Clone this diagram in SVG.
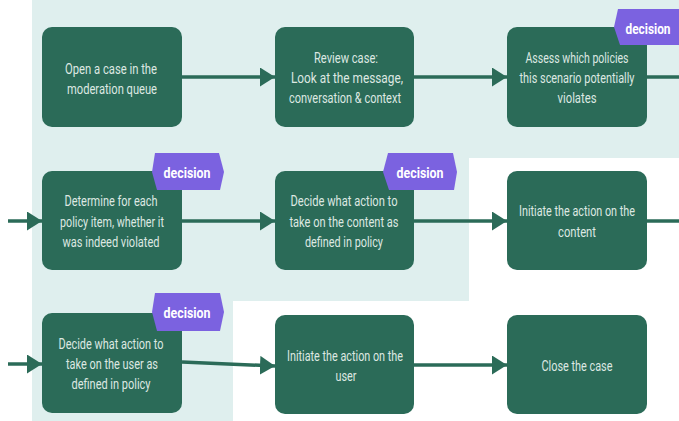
<svg xmlns="http://www.w3.org/2000/svg" width="679" height="421" viewBox="0 0 679 421">
<defs>
<style>
.node{fill:#2b6b58;}
.lbl{font-family:Roboto,"Liberation Sans",sans-serif;font-size:14.5px;fill:#dde8e2;text-anchor:middle;}
.badge{fill:#7b62e0;}
.btxt{font-family:Roboto,"Liberation Sans",sans-serif;font-size:15px;font-weight:bold;fill:#ffffff;text-anchor:middle;}
.conn{stroke:#2b6b58;stroke-width:3.5;fill:none;}
</style>
<marker id="arr" markerUnits="userSpaceOnUse" markerWidth="15" markerHeight="19" refX="15" refY="9.5" orient="auto">
<path d="M0,0 L15,9.5 L0,19 Z" fill="#2b6b58"/>
</marker>
</defs>
<rect width="679" height="421" fill="#ffffff"/>
<path d="M32,0 H679 V158 H469 V301 H233 V421 H32 Z" fill="#dfefee"/>
<g id="connectors">
<line class="conn" x1="182" y1="77" x2="275" y2="77" marker-end="url(#arr)"/>
<line class="conn" x1="414" y1="77" x2="507" y2="77" marker-end="url(#arr)"/>
<line class="conn" x1="647" y1="77" x2="679" y2="77"/>
<line class="conn" x1="8" y1="221" x2="42" y2="221" marker-end="url(#arr)"/>
<line class="conn" x1="182" y1="221" x2="275" y2="221" marker-end="url(#arr)"/>
<line class="conn" x1="414" y1="221" x2="507" y2="221" marker-end="url(#arr)"/>
<line class="conn" x1="647" y1="221" x2="679" y2="221"/>
<line class="conn" x1="8" y1="364" x2="42" y2="364" marker-end="url(#arr)"/>
<line class="conn" x1="182" y1="362" x2="275" y2="366" marker-end="url(#arr)"/>
<line class="conn" x1="414" y1="365" x2="507" y2="365" marker-end="url(#arr)"/>
</g>
<g id="n1">
<rect class="node" x="42" y="27" width="140" height="100" rx="10"/>
<text class="lbl" x="111" y="74" textLength="92" lengthAdjust="spacingAndGlyphs">Open a case in the</text>
<text class="lbl" x="112" y="94" textLength="90" lengthAdjust="spacingAndGlyphs">moderation queue</text>
</g>
<g id="n2">
<rect class="node" x="275" y="27" width="139" height="100" rx="10"/>
<text class="lbl" x="346" y="63" textLength="64" lengthAdjust="spacingAndGlyphs">Review case:</text>
<text class="lbl" x="347" y="83" textLength="112" lengthAdjust="spacingAndGlyphs">Look at the message,</text>
<text class="lbl" x="345" y="103" textLength="112" lengthAdjust="spacingAndGlyphs">conversation &amp; context</text>
</g>
<g id="n3">
<rect class="node" x="507" y="27" width="140" height="100" rx="10"/>
<text class="lbl" x="577" y="63" textLength="103" lengthAdjust="spacingAndGlyphs">Assess which policies</text>
<text class="lbl" x="577" y="83" textLength="115" lengthAdjust="spacingAndGlyphs">this scenario potentially</text>
<text class="lbl" x="577" y="103" textLength="39" lengthAdjust="spacingAndGlyphs">violates</text>
<path class="badge" d="M618,9 H679 V45 H620 L614,27 Z"/>
<text class="btxt" x="648" y="34" textLength="45" lengthAdjust="spacingAndGlyphs">decision</text>
</g>
<g id="n4">
<rect class="node" x="42" y="171" width="140" height="99" rx="10"/>
<text class="lbl" x="111" y="206" textLength="93" lengthAdjust="spacingAndGlyphs">Determine for each</text>
<text class="lbl" x="112" y="227" textLength="104" lengthAdjust="spacingAndGlyphs">policy item, whether it</text>
<text class="lbl" x="111" y="247" textLength="97" lengthAdjust="spacingAndGlyphs">was indeed violated</text>
<path class="badge" d="M155,153 H219 L224,172 L220,190 H157 L152,172 Z"/>
<text class="btxt" x="187" y="178" textLength="47" lengthAdjust="spacingAndGlyphs">decision</text>
</g>
<g id="n5">
<rect class="node" x="275" y="171" width="139" height="99" rx="10"/>
<text class="lbl" x="344" y="206" textLength="107" lengthAdjust="spacingAndGlyphs">Decide what action to</text>
<text class="lbl" x="344" y="227" textLength="109" lengthAdjust="spacingAndGlyphs">take on the content as</text>
<text class="lbl" x="344" y="247" textLength="78" lengthAdjust="spacingAndGlyphs">defined in policy</text>
<path class="badge" d="M388,153 H453 L457,172 L454,190 H389 L383,172 Z"/>
<text class="btxt" x="420" y="178" textLength="47" lengthAdjust="spacingAndGlyphs">decision</text>
</g>
<g id="n6">
<rect class="node" x="507" y="171" width="140" height="99" rx="10"/>
<text class="lbl" x="577" y="216" textLength="116" lengthAdjust="spacingAndGlyphs">Initiate the action on the</text>
<text class="lbl" x="577" y="237" textLength="38" lengthAdjust="spacingAndGlyphs">content</text>
</g>
<g id="n7">
<rect class="node" x="42" y="313" width="140" height="100" rx="10"/>
<text class="lbl" x="111" y="349" textLength="105" lengthAdjust="spacingAndGlyphs">Decide what action to</text>
<text class="lbl" x="112" y="369" textLength="92" lengthAdjust="spacingAndGlyphs">take on the user as</text>
<text class="lbl" x="111" y="389" textLength="79" lengthAdjust="spacingAndGlyphs">defined in policy</text>
<path class="badge" d="M155,293 H220 L224,312 L220,331 H157 L152,312 Z"/>
<text class="btxt" x="187" y="318" textLength="47" lengthAdjust="spacingAndGlyphs">decision</text>
</g>
<g id="n8">
<rect class="node" x="275" y="315" width="139" height="99" rx="10"/>
<text class="lbl" x="345" y="361" textLength="116" lengthAdjust="spacingAndGlyphs">Initiate the action on the</text>
<text class="lbl" x="346" y="381" textLength="21" lengthAdjust="spacingAndGlyphs">user</text>
</g>
<g id="n9">
<rect class="node" x="507" y="315" width="140" height="99" rx="10"/>
<text class="lbl" x="577" y="371" textLength="71" lengthAdjust="spacingAndGlyphs">Close the case</text>
</g>
</svg>
